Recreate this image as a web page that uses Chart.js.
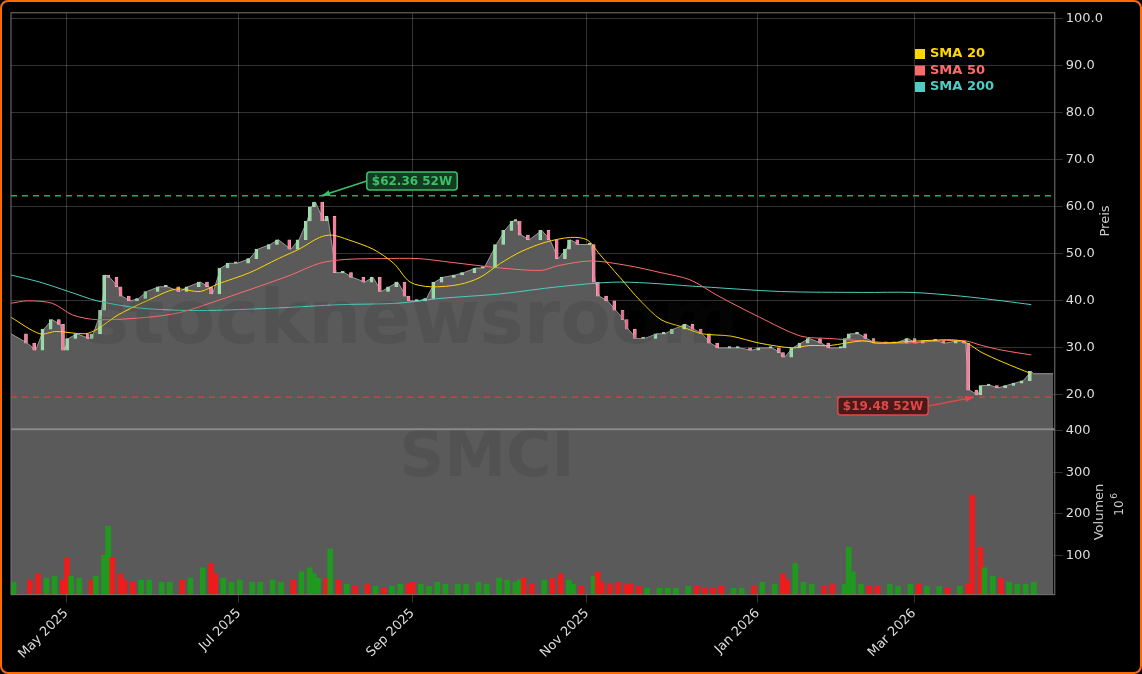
<!DOCTYPE html>
<html>
<head>
<meta charset="utf-8">
<script src="https://cdn.jsdelivr.net/npm/chart.js@4.4.1/dist/chart.umd.min.js"></script>
<style>
  html, body { margin: 0; background: #000; }
  #wrap { position: relative; width: 1142px; height: 674px; box-sizing: border-box; border: 2px solid #ff6a00; border-radius: 8px; background: #000; }
  canvas { display: block; }
</style>
</head>
<body>
<div id="wrap"><canvas id="chart" width="1138" height="670"></canvas></div>
<script>
// Handelstage (Index) und Schlusskurse
const days = [0,4,6,8,10,12,13,14,16,19,20,22,23,24,26,27,29,31,33,36,38,41,43,46,48,49,51,53,55,58,60,63,65,68,70,72,73,74,76,77,79,81,83,86,88,90,92,94,96,97,99,101,103,105,108,110,113,115,118,120,122,123,124,126,129,131,133,135,136,138,141,142,143,145,147,149,150,152,154,157,159,161,164,166,168,170,172,175,177,180,182,185,187,188,190,192,194,197,199,202,203,204,206,208,210,213,215,218,220,222,225,227,230,232,233,235,236,238,240,242,244,246,248]
const closes = [33,31,29.5,34,36,35,29.5,32,33,32,33,38,45.5,45,43,41,40,40.5,42,43,43,42,43,44,43,41.5,47,48,48,49,51,52,53,51,53,57,60,61,57,58,46,46,45,44,45,42,43,44,41,40,40,40.5,44,45,45.5,46,47,47,52,55,57,57,54,53,55,53,49,51,53,52,52,44,41,40,38,36,34,32,32,33,33,34,35,34,33,31,30,30,30,29.5,30,30,29,28,30,31,32,31,30,30,32,33,33,32,31,31,31,32,31,31.5,31.5,31,31.5,31,21,20,22,22,21.5,22,22.5,23,25]
const volumes = [35,40,55,45,50,40,95,50,45,40,50,100,170,95,55,40,35,40,40,35,35,40,45,70,80,55,45,35,40,35,35,40,35,40,60,70,55,45,45,115,40,30,25,30,25,20,25,30,30,35,30,25,35,30,30,30,35,30,45,40,35,40,45,30,40,45,55,40,30,25,50,60,35,30,35,30,30,25,20,20,20,20,25,25,20,20,25,20,20,25,35,30,55,40,80,35,30,25,30,30,120,60,30,25,25,30,25,30,30,25,25,20,25,30,245,120,70,50,45,35,30,30,35,35]

const sma20 = [[0,36.5],[7,33],[11,33.5],[18,33],[21,34],[26,37],[33,40],[40,42.5],[46,42],[50,43.5],[58,46],[65,49],[70,51],[75,53.5],[78,54],[82,53],[88,51],[93,48],[97,44],[102,43],[109,43.5],[114,45],[119,48],[124,50.5],[130,52.5],[136,53.5],[140,53],[143,50],[148,45],[153,40],[158,36],[163,34.5],[168,33],[175,32.5],[182,31],[190,30],[194,30.5],[199,30.5],[207,31.5],[211,31],[221,31.5],[231,31.5],[236,29],[241,27],[248,24.5]]
const sma50 = [[0,39.5],[4,40],[10,39.5],[15,37],[21,36],[33,36.5],[41,37.5],[50,40],[60,43],[68,45.5],[75,48],[81,48.8],[90,49],[99,49],[107,48.2],[119,47],[129,46.5],[133,47.5],[141,48.5],[150,47.5],[158,46],[165,44.5],[172,41],[182,36.5],[192,32.5],[199,32],[207,31.5],[216,31],[226,31.5],[232,31.5],[236,30.5],[241,29.5],[248,28.5]]
const sma200 = [[0,45.5],[7,44],[14,42],[21,40],[31,38.5],[41,38],[50,38],[65,38.5],[80,39.2],[94,39.5],[104,40.5],[119,41.5],[133,43],[148,44],[168,43],[187,42],[207,41.8],[219,41.8],[231,41],[241,40],[248,39.2]]

const monthTicks = [13.4, 55.4, 97.6, 140, 181.5, 219.5]
const monthLabels = ['May 2025', 'Jul 2025', 'Sep 2025', 'Nov 2025', 'Jan 2026', 'Mar 2026']
const priceTicks = [20, 30, 40, 50, 60, 70, 80, 90, 100]
const volTicks = [100, 200, 300, 400]
const high52 = 62.36
const low52 = 19.48

const opens = closes.map((c, i) => i === 0 ? c : closes[i - 1])
const up = closes.map((c, i) => c >= opens[i])
const toXY = arr => arr.map(p => ({ x: p[0], y: p[1] }))

const area = days.map((d, i) => ({ x: d, y: closes[i] }))
area.push({ x: 248.5, y: 24.5 }, { x: 253.3, y: 24.5 })

const fillGrey = '#5a5a5a'

//Hintergrund im Volumenbereich
const volBg = {
  id: 'volBg',
  beforeDatasetsDraw(chart) {
    const { ctx, scales } = chart
    const x0 = scales.x.getPixelForValue(0)
    const x1 = scales.x.getPixelForValue(253.3)
    ctx.save()
    ctx.fillStyle = fillGrey
    ctx.fillRect(x0, scales.yv.top, x1 - x0, scales.yv.bottom - scales.yv.top)
    ctx.restore()
  }
}

//Texte, Linien und Legende
const extras = {
  id: 'extras',
  afterDatasetsDraw(chart) {
    const { ctx, chartArea: a, scales } = chart
    const x = scales.x, y = scales.y
    ctx.save()
    // Wasserzeichen
    ctx.fillStyle = 'rgba(30,30,30,0.13)'
    ctx.font = 'bold 74px "DejaVu Sans"'
    ctx.textAlign = 'center'
    ctx.textBaseline = 'middle'
    ctx.fillText('stocknewsroom', 410, 322)
    ctx.font = 'bold 62px "DejaVu Sans"'
    ctx.fillText('SMCI', 485, 458)

    // 52W Linien
    ctx.setLineDash([6, 5])
    ctx.lineWidth = 1.5
    ctx.strokeStyle = '#2eaa5a'
    let yh = y.getPixelForValue(high52)
    ctx.beginPath(); ctx.moveTo(a.left, yh); ctx.lineTo(a.right, yh); ctx.stroke()
    ctx.strokeStyle = '#d04040'
    let yl = y.getPixelForValue(low52)
    ctx.beginPath(); ctx.moveTo(a.left, yl); ctx.lineTo(a.right, yl); ctx.stroke()
    ctx.setLineDash([])

    // Labels
    ctx.font = 'bold 12px "DejaVu Sans"'
    const label = (txt, cx, cy, fg, bg, tx, ty) => {
      const w = ctx.measureText(txt).width + 10
      ctx.strokeStyle = fg
      ctx.fillStyle = fg
      ctx.lineWidth = 1.5
      const sx = tx < cx ? cx - w / 2 : cx + w / 2
      ctx.beginPath()
      ctx.moveTo(sx, cy)
      ctx.lineTo(tx, ty)
      ctx.stroke()
      const ang = Math.atan2(ty - cy, tx - sx)
      ctx.beginPath()
      ctx.moveTo(tx, ty)
      ctx.lineTo(tx - 9 * Math.cos(ang - 0.35), ty - 9 * Math.sin(ang - 0.35))
      ctx.lineTo(tx - 9 * Math.cos(ang + 0.35), ty - 9 * Math.sin(ang + 0.35))
      ctx.fill()
      ctx.fillStyle = bg
      ctx.beginPath()
      ctx.roundRect(cx - w / 2, cy - 9, w, 18, 3)
      ctx.fill()
      ctx.stroke()
      ctx.fillStyle = fg
      ctx.textAlign = 'center'
      ctx.fillText(txt, cx, cy + 1)
    }
    label('$62.36 52W', 410, 179, '#3cc06a', '#143a22', x.getPixelForValue(75.5), yh)
    label('$19.48 52W', 881, 404, '#e04848', '#4a1a1a', x.getPixelForValue(234), yl)

    // Legende
    const items = [['SMA 20', '#ffd700'], ['SMA 50', '#ff6b6b'], ['SMA 200', '#4ecdc4']]
    ctx.textAlign = 'left'
    ctx.font = 'bold 13px "DejaVu Sans"'
    items.forEach((it, i) => {
      const ly = 52 + i * 16.5
      ctx.fillStyle = it[1]
      ctx.fillRect(913, ly - 5, 10, 10)
      ctx.fillText(it[0], 928, ly)
    })

    // Trennlinie der Bereiche
    ctx.strokeStyle = '#8a8a8a'
    ctx.lineWidth = 2
    const yb = scales.yv.top - 1
    ctx.beginPath(); ctx.moveTo(a.left, yb); ctx.lineTo(a.right, yb); ctx.stroke()

    // Achsentitel
    const vt = (txt, px, py, size) => {
      ctx.save()
      ctx.translate(px, py)
      ctx.rotate(-Math.PI / 2)
      ctx.fillStyle = '#ccc'
      ctx.font = size + 'px "DejaVu Sans"'
      ctx.textAlign = 'center'
      ctx.fillText(txt, 0, 0)
      ctx.restore()
    }
    vt('Preis', 1104, 219, 13)
    vt('Volumen', 1098, 510, 13)
    vt('10', 1118, 506, 12)
    vt('6', 1113, 494, 9)
    ctx.restore()
  },
  afterDraw(chart) {
    const { ctx, chartArea: a } = chart
    ctx.save()
    ctx.lineWidth = 1
    ctx.strokeStyle = '#777'
    ctx.strokeRect(a.left, a.top, a.right - a.left, a.bottom - a.top)
    ctx.restore()
  }
}

const gridCol = 'rgba(255,255,255,0.2)'
const tickFont = { size: 13, family: 'DejaVu Sans' }

new Chart(document.getElementById('chart'), {
  type: 'bar',
  data: {
    datasets: [
      { type: 'line', label: 'SMA 20', data: toXY(sma20), yAxisID: 'y', borderColor: '#ffd700', borderWidth: 1, pointRadius: 0, tension: 0.3, order: 1 },
      { type: 'line', label: 'SMA 50', data: toXY(sma50), yAxisID: 'y', borderColor: '#ff6b6b', borderWidth: 1, pointRadius: 0, tension: 0.3, order: 1 },
      { type: 'line', label: 'SMA 200', data: toXY(sma200), yAxisID: 'y', borderColor: '#4ecdc4', borderWidth: 1, pointRadius: 0, tension: 0.3, order: 1 },
      { label: 'Kerzen', data: days.map((d, i) => ({ x: d, y: [opens[i], closes[i] + (opens[i] === closes[i] ? 0.3 : 0)] })), yAxisID: 'y',
        backgroundColor: up.map(u => u ? '#8fe0a0' : '#ff7a9a'), borderColor: '#ccc', borderWidth: 0.5, borderSkipped: false, barThickness: 3, order: 2 },
      { type: 'line', label: 'Kurs', data: area, yAxisID: 'y', borderColor: '#9a9a9a', borderWidth: 1, backgroundColor: fillGrey, fill: 'start', pointRadius: 0, order: 3 },
      { label: 'Volumen', data: days.map((d, i) => ({ x: d, y: volumes[i] })), yAxisID: 'yv',
        backgroundColor: up.map(u => u ? '#1f9a1f' : '#ee1c1c'), barThickness: 5, order: 2 }
    ]
  },
  options: {
    responsive: false,
    animation: false,
    layout: { padding: { left: 9, top: 8, right: 34, bottom: 7 } },
    plugins: { legend: { display: false }, tooltip: { enabled: false } },
    scales: {
      x: {
        type: 'linear', min: 0, max: 253.7, offset: false, z: 1,
        grid: { color: gridCol, offset: false },
        afterBuildTicks: s => { s.ticks = monthTicks.map(v => ({ value: v })) },
        ticks: { color: '#ddd', font: tickFont, maxRotation: 45, minRotation: 45, callback: (v, i) => monthLabels[i] }
      },
      y: {
        position: 'right', stack: 'p', stackWeight: 416, min: 12.5, max: 101.3, z: 1,
        grid: { color: gridCol },
        afterBuildTicks: s => { s.ticks = priceTicks.map(v => ({ value: v })) },
        ticks: { color: '#ddd', font: tickFont, callback: v => v.toFixed(1) }
      },
      yv: {
        position: 'right', stack: 'p', stackWeight: 164, min: 5, max: 402, offset: false, z: 1,
        grid: { color: gridCol },
        afterBuildTicks: s => { s.ticks = volTicks.map(v => ({ value: v })) },
        ticks: { color: '#ddd', font: tickFont }
      }
    }
  },
  plugins: [volBg, extras]
});
</script>
</body>
</html>
